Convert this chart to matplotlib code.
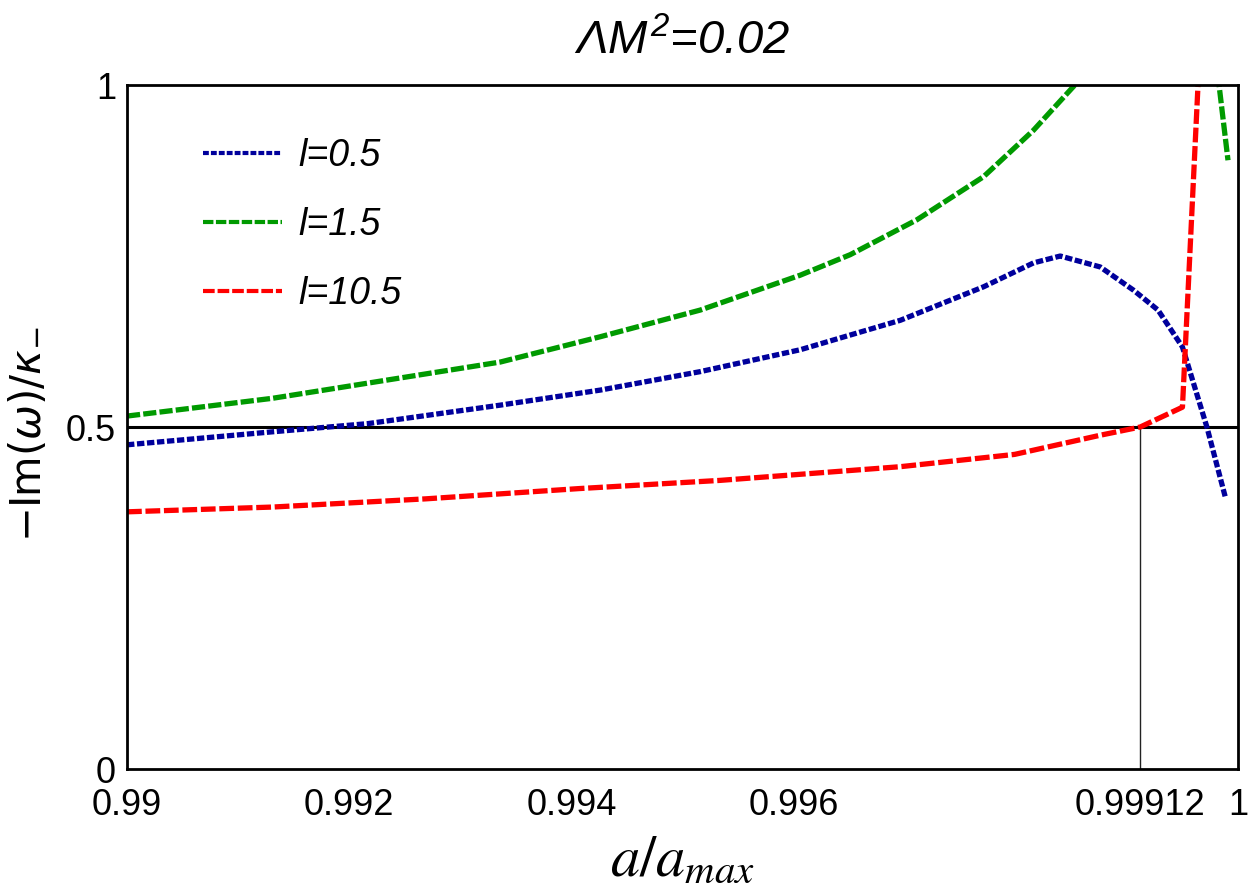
import numpy as np
import matplotlib
matplotlib.use("Agg")
import matplotlib.pyplot as plt

plt.rcParams['font.family'] = ['Liberation Sans', 'DejaVu Sans']
plt.rcParams['mathtext.fontset'] = 'custom'
plt.rcParams['mathtext.rm'] = 'Liberation Sans:italic'
plt.rcParams['mathtext.it'] = 'Liberation Sans:italic'

# l = 0.5
x_l05 = [0.99000, 0.99131, 0.99217, 0.99336, 0.99426, 0.99516, 0.99606, 0.99696,
         0.99771, 0.99816, 0.99840, 0.99876, 0.99906, 0.99928, 0.99950, 0.99972, 0.99989]
y_l05 = [0.474, 0.493, 0.505, 0.532, 0.554, 0.581, 0.613, 0.656,
         0.705, 0.740, 0.750, 0.734, 0.700, 0.671, 0.617, 0.500, 0.395]

# l = 1.5 (two branches, blows up in between)
x_l15 = [0.99000, 0.99131, 0.99336, 0.99426, 0.99516, 0.99606, 0.99651, 0.99711,
         0.99771, 0.99816, 0.99852, 0.99860, np.nan, 0.99980, 0.99991]
y_l15 = [0.516, 0.542, 0.595, 0.632, 0.671, 0.722, 0.752, 0.803,
         0.866, 0.934, 0.998, 1.015, np.nan, 1.040, 0.890]

# l = 10.5
x_l105 = [0.99000, 0.99131, 0.99269, 0.99407, 0.99534, 0.99696, 0.99799, 0.99876,
          0.99912, 0.99950, 0.999655]
y_l105 = [0.376, 0.383, 0.395, 0.410, 0.422, 0.442, 0.460, 0.488,
          0.500, 0.529, 1.050]

a_cross = 0.99912
xticks = [0.99, 0.992, 0.994, 0.996, 0.99912, 1.0]
xticklabels = ['0.99', '0.992', '0.994', '0.996', '0.99912', '1']
yticks = [0, 0.5, 1]
yticklabels = ['0', '0.5', '1']

fig = plt.figure(figsize=(12.5, 8.94), dpi=100)
ax = fig.add_axes([0.1016, 0.1398, 0.8888, 0.7651])

ax.plot(x_l05, y_l05, color='#00009c', lw=3.8, linestyle=(0, (1.4, 0.5)),
        dash_capstyle='butt', label='l=0.5')
ax.plot(x_l15, y_l15, color='#009a00', lw=3.8, linestyle=(0, (2.5, 0.6)),
        dash_capstyle='butt', label='l=1.5')
ax.plot(x_l105, y_l105, color='#ff0000', lw=3.8, linestyle=(0, (2.8, 0.7)),
        dash_capstyle='butt', label='l=10.5')

ax.axhline(0.5, color='black', lw=2.2, zorder=1)
ax.plot([a_cross, a_cross], [0, 0.5], color='#222222', lw=1.0, zorder=1)

ax.set_xlim(0.99, 1.0)
ax.set_ylim(0, 1)
ax.set_xticks(xticks)
ax.set_xticklabels(xticklabels)
ax.set_yticks(yticks)
ax.set_yticklabels(yticklabels)
ax.tick_params(length=0, labelsize=26)
ax.tick_params(axis='x', pad=14)
ax.tick_params(axis='y', pad=8)
for s in ax.spines.values():
    s.set_linewidth(2)

ax.set_title(r'$\Lambda M^{2}$=0.02', fontsize=34, style='italic', pad=22)
ax.set_ylabel(r'$-\mathrm{Im}(\omega)/\kappa_{-}$', fontsize=30,
              math_fontfamily='dejavusans')
ax.yaxis.set_label_coords(-0.07, 0.49)
ax.set_xlabel(r'$a/a_{max}$', fontsize=42, math_fontfamily='stix', labelpad=8)

leg = ax.legend(loc='upper left', bbox_to_anchor=(0.038, 0.972), frameon=False,
                prop={'size': 27, 'style': 'italic'}, handlelength=2.1,
                handletextpad=0.45, labelspacing=0.88)
for h in leg.get_lines():
    h.set_linewidth(3)

fig.savefig('out.png', dpi=100)
